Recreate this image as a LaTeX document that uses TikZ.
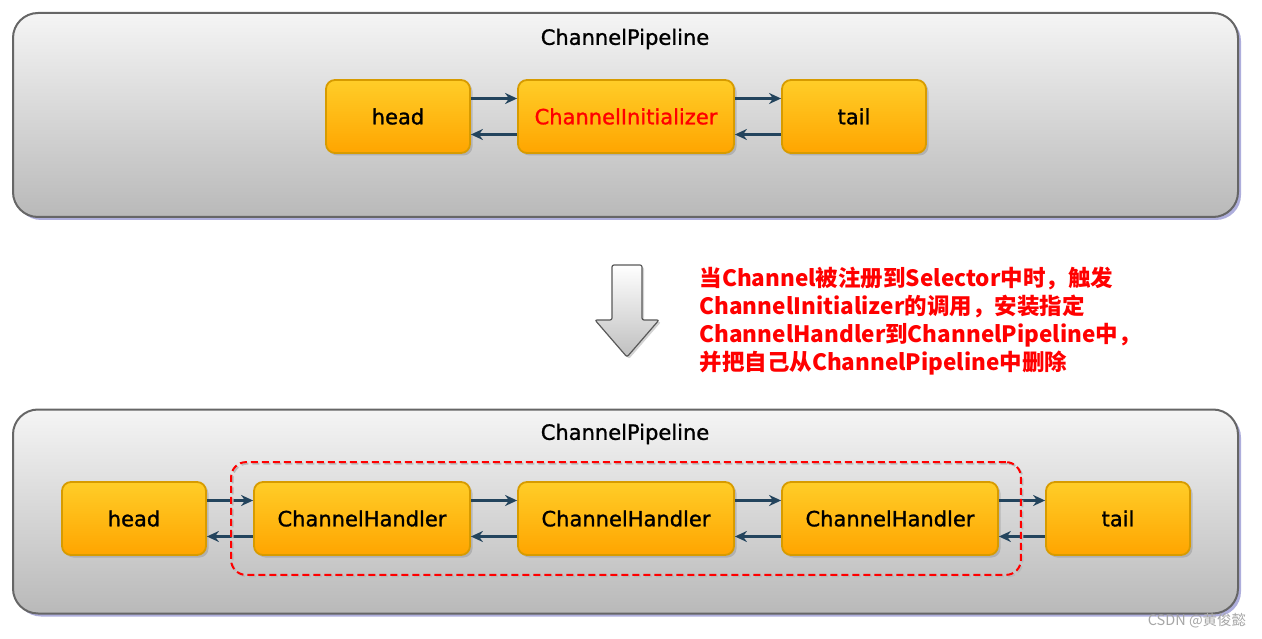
\documentclass[tikz,border=0pt]{standalone}
\usepackage{fontspec}
\setmainfont{DejaVu Sans}
\newfontfamily\cjkfont{Noto Sans CJK SC}
\usetikzlibrary{arrows.meta,shadows,fit}

\definecolor{boxtop}{HTML}{FFCD28}
\definecolor{boxbot}{HTML}{FFA500}
\definecolor{boxline}{HTML}{D79B00}
\definecolor{linkcol}{HTML}{23445D}
\definecolor{pipeline}{HTML}{666666}

\tikzset{
  pipe/.style={draw=pipeline, line width=2pt, rounded corners=25pt,
    top color=gray!8, bottom color=gray!55, minimum width=1225pt, minimum height=204pt,
    drop shadow={shadow xshift=3pt, shadow yshift=-3pt, fill=blue!40!gray, opacity=.45}},
  handler/.style={draw=boxline, line width=1.8pt, rounded corners=9pt,
    top color=boxtop, bottom color=boxbot, minimum height=73pt,
    font=\fontsize{21}{24}\selectfont\addfontfeature{FakeBold=1.2},
    drop shadow={shadow xshift=2.5pt, shadow yshift=-2.5pt, opacity=.35}},
  link/.style={draw=linkcol, line width=2.6pt, -{Stealth[length=12pt,width=11pt]}},
  title/.style={font=\fontsize{21}{24}\selectfont\addfontfeature{FakeBold=1.2}},
  group/.style={draw=red, line width=2pt, dash pattern=on 7pt off 4pt, rounded corners=15pt,
    inner xsep=22pt, inner ysep=19pt,
    preaction={draw=gray!55, transform canvas={shift={(1.5pt,-1.5pt)}}}},
}

\begin{document}
\begin{tikzpicture}[x=1pt, y=-1pt]
  \useasboundingbox (0,0) rectangle (1262,639);

  % before: pipeline with the initializer
  \node[pipe] (pipe1) at (625.5,115) {};
  \node[title] (title1) at (625,39) {ChannelPipeline};
  \node[handler, minimum width=144pt] (head1) at (398,116.5) {head};
  \node[handler, minimum width=216pt, text=red] (init) at (626,116.5) {ChannelInitializer};
  \node[handler, minimum width=144pt] (tail1) at (854,116.5) {tail};
  \foreach \a/\b in {head1/init, init/tail1} {
    \draw[link] ([yshift=18pt]\a.east) -- ([yshift=18pt]\b.west);
    \draw[link] ([yshift=-18pt]\b.west) -- ([yshift=-18pt]\a.east);
  }

  % down arrow and note
  \draw[draw=gray!70!black, line width=1.2pt, rounded corners=2pt, top color=white, bottom color=gray!50,
    drop shadow={shadow xshift=2pt, shadow yshift=-2pt, opacity=.35}]
    (612,265) -- (642,265) -- (642,320) -- (659,320) -- (627,357) -- (595,320) -- (612,320) -- cycle;
  \node[anchor=west, align=left, text=red, font=\cjkfont\bfseries\fontsize{22.5}{28}\selectfont]
    (note) at (696,321) {当Channel被注册到Selector中时，触发\\ChannelInitializer的调用，安装指定\\ChannelHandler到ChannelPipeline中，\\并把自己从ChannelPipeline中删除};

  % after: pipeline with the handlers
  \node[pipe] (pipe2) at (625.5,511.5) {};
  \node[title] (title2) at (625,434) {ChannelPipeline};
  \node[handler, minimum width=144pt] (head2) at (134,518.5) {head};
  \node[handler, minimum width=216pt] (ch1) at (362,518.5) {ChannelHandler};
  \node[handler, minimum width=216pt] (ch2) at (626,518.5) {ChannelHandler};
  \node[handler, minimum width=216pt] (ch3) at (890,518.5) {ChannelHandler};
  \node[handler, minimum width=144pt] (tail2) at (1118,518.5) {tail};
  \foreach \a/\b in {head2/ch1, ch1/ch2, ch2/ch3, ch3/tail2} {
    \draw[link] ([yshift=18pt]\a.east) -- ([yshift=18pt]\b.west);
    \draw[link] ([yshift=-18pt]\b.west) -- ([yshift=-18pt]\a.east);
  }
  \node[group, fit=(ch1)(ch3)] (added) {};

  \node[text=gray!70, font=\cjkfont\fontsize{14.5}{17}\selectfont] (mark) at (1197,621) {CSDN @黄俊懿};
\end{tikzpicture}
\end{document}
